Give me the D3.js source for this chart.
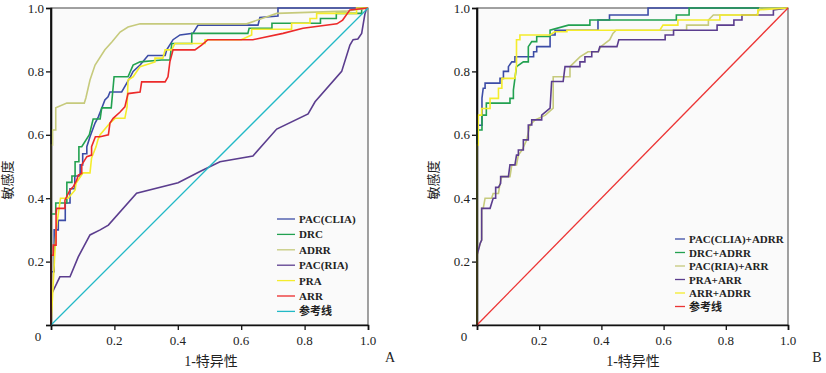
<!DOCTYPE html>
<html>
<head>
<meta charset="utf-8">
<script src="https://cdn.jsdelivr.net/npm/d3@7"></script>
<style>
  body { margin: 0; background: #fff; }
  svg { display: block; }
  text { font-family: "Liberation Serif", "Noto Sans CJK SC", serif; fill: #222; }
</style>
</head>
<body>
<div id="chart"></div>
<script>
// ticks
const tickValues = [0.2, 0.4, 0.6, 0.8, 1.0];
const tickLabels = ["0.2", "0.4", "0.6", "0.8", "1.0"];

// panel A series, [1-specificity, sensitivity]
const namesA = ["PAC(CLIA)", "DRC", "ADRR", "PAC(RIA)", "PRA", "ARR", "参考线"];
const colorsA = ["#3c4ca6", "#22a150", "#c6ca7c", "#5b3d8e", "#f4ec2c", "#ec2a2a", "#22b9c6"];

const pacCliaA = [[0,0],[0,0.168],[0.01,0.168],[0.01,0.30],[0.023,0.30],[0.023,0.33],[0.045,0.33],[0.045,0.385],[0.06,0.385],[0.06,0.43],[0.075,0.43],[0.075,0.47],[0.092,0.47],[0.092,0.505],[0.1,0.505],[0.1,0.54],[0.113,0.54],[0.113,0.5625],[0.123,0.594],[0.139,0.637],[0.149,0.656],[0.16,0.684],[0.17,0.71],[0.18,0.72],[0.186,0.735],[0.223,0.735],[0.239,0.763],[0.249,0.78],[0.259,0.80],[0.281,0.82],[0.306,0.85],[0.36,0.85],[0.365,0.868],[0.385,0.90],[0.407,0.915],[0.448,0.92],[0.454,0.93],[0.464,0.946],[0.653,0.946],[0.659,0.97],[0.716,0.975],[0.716,1],[1,1]];
const drcA = [[0,0],[0,0.35],[0.015,0.35],[0.015,0.385],[0.05,0.385],[0.05,0.45],[0.066,0.45],[0.066,0.47],[0.076,0.47],[0.076,0.515],[0.088,0.515],[0.088,0.5625],[0.097,0.5625],[0.121,0.60],[0.133,0.65],[0.155,0.65],[0.16,0.685],[0.19,0.685],[0.199,0.783],[0.243,0.783],[0.259,0.82],[0.281,0.83],[0.349,0.836],[0.375,0.836],[0.381,0.888],[0.444,0.888],[0.444,0.92],[0.621,0.92],[0.625,0.936],[0.697,0.936],[0.697,0.952],[0.85,0.952],[0.85,0.967],[0.9,0.967],[0.9,0.983],[0.98,0.983],[0.98,1],[1,1]];
const adrrA = [[0,0],[0,0.568],[0.005,0.568],[0.005,0.615],[0.015,0.615],[0.015,0.685],[0.05,0.70],[0.105,0.70],[0.11,0.716],[0.123,0.773],[0.139,0.82],[0.17,0.868],[0.192,0.893],[0.218,0.924],[0.243,0.94],[0.281,0.95],[0.617,0.95],[0.712,0.983],[0.93,0.99],[1,1]];
const pacRiaA = [[0,0],[0,0.10],[0.003,0.10],[0.028,0.152],[0.06,0.152],[0.086,0.215],[0.123,0.284],[0.155,0.30],[0.181,0.315],[0.27,0.416],[0.401,0.449],[0.47,0.484],[0.533,0.515],[0.637,0.533],[0.712,0.618],[0.811,0.666],[0.833,0.704],[0.917,0.80],[0.943,0.883],[0.953,0.90],[0.968,0.902],[0.98,0.92],[0.99,0.98],[0.996,1],[1,1]];
const praA = [[0,0],[0.016,0.30],[0.03,0.40],[0.054,0.40],[0.076,0.426],[0.079,0.447],[0.101,0.48],[0.123,0.48],[0.128,0.527],[0.142,0.562],[0.148,0.584],[0.155,0.60],[0.186,0.637],[0.202,0.652],[0.233,0.652],[0.24,0.688],[0.243,0.773],[0.259,0.783],[0.281,0.815],[0.328,0.83],[0.328,0.842],[0.353,0.842],[0.36,0.868],[0.381,0.868],[0.391,0.888],[0.486,0.888],[0.486,0.90],[0.6,0.90],[0.633,0.915],[0.633,0.933],[0.759,0.933],[0.759,0.952],[0.817,0.952],[0.817,0.967],[0.838,0.967],[0.838,0.983],[0.964,0.983],[0.964,1],[1,1]];
const arrA = [[0,0],[0,0.22],[0.007,0.22],[0.007,0.252],[0.016,0.252],[0.016,0.352],[0.018,0.368],[0.044,0.368],[0.044,0.394],[0.06,0.426],[0.07,0.436],[0.081,0.457],[0.086,0.473],[0.097,0.478],[0.097,0.505],[0.113,0.531],[0.128,0.536],[0.128,0.5625],[0.14,0.594],[0.155,0.594],[0.181,0.60],[0.186,0.637],[0.196,0.652],[0.218,0.672],[0.233,0.688],[0.243,0.73],[0.281,0.735],[0.286,0.767],[0.36,0.767],[0.369,0.783],[0.375,0.83],[0.385,0.868],[0.454,0.868],[0.475,0.883],[0.495,0.90],[0.637,0.90],[0.732,0.92],[0.795,0.936],[0.902,0.95],[0.92,0.962],[0.943,0.994],[1,1]];
const refA = [[0,0],[1,1]];

// panel B series
const namesB = ["PAC(CLIA)+ADRR", "DRC+ADRR", "PAC(RIA)+ARR", "PRA+ARR", "ARR+ADRR", "参考线"];
const colorsB = ["#3c4ca6", "#22a150", "#c6ca7c", "#5b3d8e", "#f4ec2c", "#ec3434"];

const pacCliaAdrrB = [[0,0],[0,0.63],[0.016,0.63],[0.016,0.716],[0.02,0.747],[0.026,0.747],[0.026,0.763],[0.074,0.763],[0.074,0.778],[0.085,0.778],[0.085,0.80],[0.101,0.80],[0.101,0.815],[0.112,0.83],[0.122,0.83],[0.122,0.846],[0.182,0.846],[0.182,0.862],[0.192,0.862],[0.192,0.878],[0.235,0.878],[0.235,0.915],[0.251,0.915],[0.251,0.93],[0.389,0.93],[0.389,0.962],[0.426,0.962],[0.426,0.978],[0.55,0.978],[0.55,1],[1,1]];
const drcAdrrB = [[0,0],[0,0.615],[0.016,0.615],[0.016,0.662],[0.03,0.662],[0.03,0.70],[0.106,0.70],[0.106,0.715],[0.117,0.715],[0.117,0.741],[0.122,0.778],[0.127,0.815],[0.149,0.83],[0.165,0.83],[0.165,0.878],[0.176,0.894],[0.192,0.894],[0.192,0.91],[0.235,0.91],[0.235,0.93],[0.294,0.946],[0.363,0.946],[0.363,0.962],[0.641,0.962],[0.641,0.978],[0.682,0.978],[0.682,1],[1,1]];
const pacRiaArrB = [[0,0],[0,0.22],[0.01,0.257],[0.015,0.268],[0.015,0.368],[0.02,0.368],[0.026,0.40],[0.047,0.40],[0.052,0.415],[0.069,0.415],[0.074,0.447],[0.08,0.468],[0.106,0.468],[0.112,0.505],[0.127,0.505],[0.133,0.536],[0.145,0.552],[0.16,0.584],[0.17,0.631],[0.187,0.647],[0.22,0.662],[0.245,0.684],[0.245,0.783],[0.299,0.783],[0.299,0.815],[0.331,0.846],[0.357,0.862],[0.39,0.862],[0.398,0.878],[0.427,0.90],[0.437,0.92],[0.447,0.93],[0.674,0.93],[0.674,0.946],[0.744,0.946],[0.744,0.962],[0.76,0.978],[0.9,0.978],[0.91,1],[1,1]];
const praArrB = [[0,0],[0,0.22],[0.01,0.257],[0.015,0.268],[0.015,0.368],[0.042,0.368],[0.052,0.40],[0.06,0.40],[0.06,0.434],[0.069,0.434],[0.076,0.447],[0.076,0.468],[0.101,0.468],[0.106,0.505],[0.122,0.505],[0.127,0.536],[0.133,0.536],[0.133,0.552],[0.149,0.552],[0.149,0.584],[0.165,0.584],[0.165,0.631],[0.176,0.631],[0.176,0.647],[0.208,0.647],[0.208,0.662],[0.235,0.684],[0.24,0.768],[0.277,0.768],[0.283,0.815],[0.331,0.815],[0.331,0.83],[0.347,0.83],[0.347,0.846],[0.369,0.846],[0.369,0.862],[0.39,0.862],[0.395,0.878],[0.45,0.878],[0.456,0.90],[0.605,0.90],[0.605,0.915],[0.632,0.915],[0.632,0.93],[0.772,0.93],[0.772,0.946],[0.826,0.946],[0.826,0.962],[0.852,0.962],[0.852,0.978],[0.953,0.978],[0.953,0.994],[1,1]];
const arrAdrrB = [[0,0],[0,0.568],[0.004,0.568],[0.004,0.662],[0.015,0.662],[0.015,0.683],[0.042,0.683],[0.042,0.715],[0.069,0.715],[0.069,0.747],[0.08,0.747],[0.08,0.778],[0.122,0.778],[0.127,0.82],[0.127,0.90],[0.138,0.90],[0.138,0.915],[0.235,0.915],[0.25,0.925],[0.289,0.925],[0.289,0.93],[0.588,0.93],[0.598,0.946],[0.646,0.946],[0.646,0.962],[0.781,0.962],[0.781,0.978],[0.903,0.978],[0.903,0.994],[1,1]];
const refB = [[0,0],[1,1]];

const svg = d3.select("#chart").append("svg")
  .attr("width", 826)
  .attr("height", 373);

function drawPanel(p) {
  const x = d3.scaleLinear().domain([0, 1]).range([p.left, p.right]);
  const y = d3.scaleLinear().domain([0, 1]).range([325, 8]);
  const g = svg.append("g");

  g.append("rect")
    .attr("x", p.left).attr("y", 8)
    .attr("width", p.right - p.left).attr("height", 317)
    .attr("fill", "#fafafa")
    .attr("stroke", "#444")
    .attr("stroke-width", 1);

  // axes
  const xAxis = g.append("g")
    .attr("transform", `translate(0,325)`)
    .call(d3.axisBottom(x).tickValues([0].concat(tickValues)).tickSize(5).tickFormat(""));
  const yAxis = g.append("g")
    .attr("transform", `translate(${p.left},0)`)
    .call(d3.axisLeft(y).tickValues([0].concat(tickValues)).tickSize(5).tickFormat(""));
  [xAxis, yAxis].forEach(a => {
    a.select(".domain").attr("stroke", "#111").attr("stroke-width", 1.6);
    a.selectAll(".tick line").attr("stroke", "#111").attr("stroke-width", 1.3);
  });

  g.selectAll(".xl")
    .data(tickValues)
    .enter().append("text")
    .attr("x", d => x(d))
    .attr("y", 345)
    .attr("text-anchor", "middle")
    .attr("font-size", 13)
    .text((d, i) => tickLabels[i]);

  g.selectAll(".yl")
    .data(tickValues)
    .enter().append("text")
    .attr("x", p.left - 7)
    .attr("y", d => y(d) + 4.5)
    .attr("text-anchor", "end")
    .attr("font-size", 13)
    .text((d, i) => tickLabels[i]);

  g.append("text")
    .attr("x", p.left - 13).attr("y", 341)
    .attr("text-anchor", "middle")
    .attr("font-size", 13)
    .text("0");

  g.append("text")
    .attr("x", p.titleX).attr("y", 366)
    .attr("text-anchor", "middle")
    .attr("font-size", 14)
    .text("1-特异性");

  g.append("text")
    .attr("transform", `translate(${p.yTitleX},180) rotate(-90)`)
    .attr("text-anchor", "middle")
    .attr("font-size", 13)
    .text("敏感度");

  g.append("text")
    .attr("x", p.tagX).attr("y", 362)
    .attr("text-anchor", "middle")
    .attr("font-size", 14)
    .text(p.tag);

  const line = d3.line().x(d => x(d[0])).y(d => y(d[1]));
  const plot = g.append("g");
  p.series.forEach((s, i) => {
    plot.append("path")
      .datum(s)
      .attr("fill", "none")
      .attr("stroke", p.colors[i])
      .attr("stroke-width", i === p.series.length - 1 ? 1.3 : 1.6)
      .attr("d", line);
  });

  // redraw axis lines over the curves
  g.append("line")
    .attr("x1", p.left).attr("x2", p.left).attr("y1", 8).attr("y2", 325)
    .attr("stroke", "#111").attr("stroke-width", 1.6);

  const legend = g.append("g");
  p.names.forEach((n, i) => {
    const ly = p.legY + i * p.legStep;
    legend.append("line")
      .attr("x1", p.legX).attr("x2", p.legX + p.legLen)
      .attr("y1", ly).attr("y2", ly)
      .attr("stroke", p.colors[i])
      .attr("stroke-width", 1.3);
    legend.append("text")
      .attr("x", p.legX + p.legLen + 4)
      .attr("y", ly + 4)
      .attr("font-size", 11)
      .attr("font-weight", "bold")
      .text(n);
  });
}

drawPanel({
  left: 51, right: 368, titleX: 211, yTitleX: 12, tagX: 390, tag: "A",
  series: [pacCliaA, drcA, adrrA, pacRiaA, praA, arrA, refA],
  colors: colorsA, names: namesA,
  legX: 277, legLen: 18, legY: 219, legStep: 15.4
});

drawPanel({
  left: 477, right: 788, titleX: 633, yTitleX: 438, tagX: 817, tag: "B",
  series: [pacCliaAdrrB, drcAdrrB, pacRiaArrB, praArrB, arrAdrrB, refB],
  colors: colorsB, names: namesB,
  legX: 675, legLen: 10, legY: 239, legStep: 13.5
});
</script>
</body>
</html>
